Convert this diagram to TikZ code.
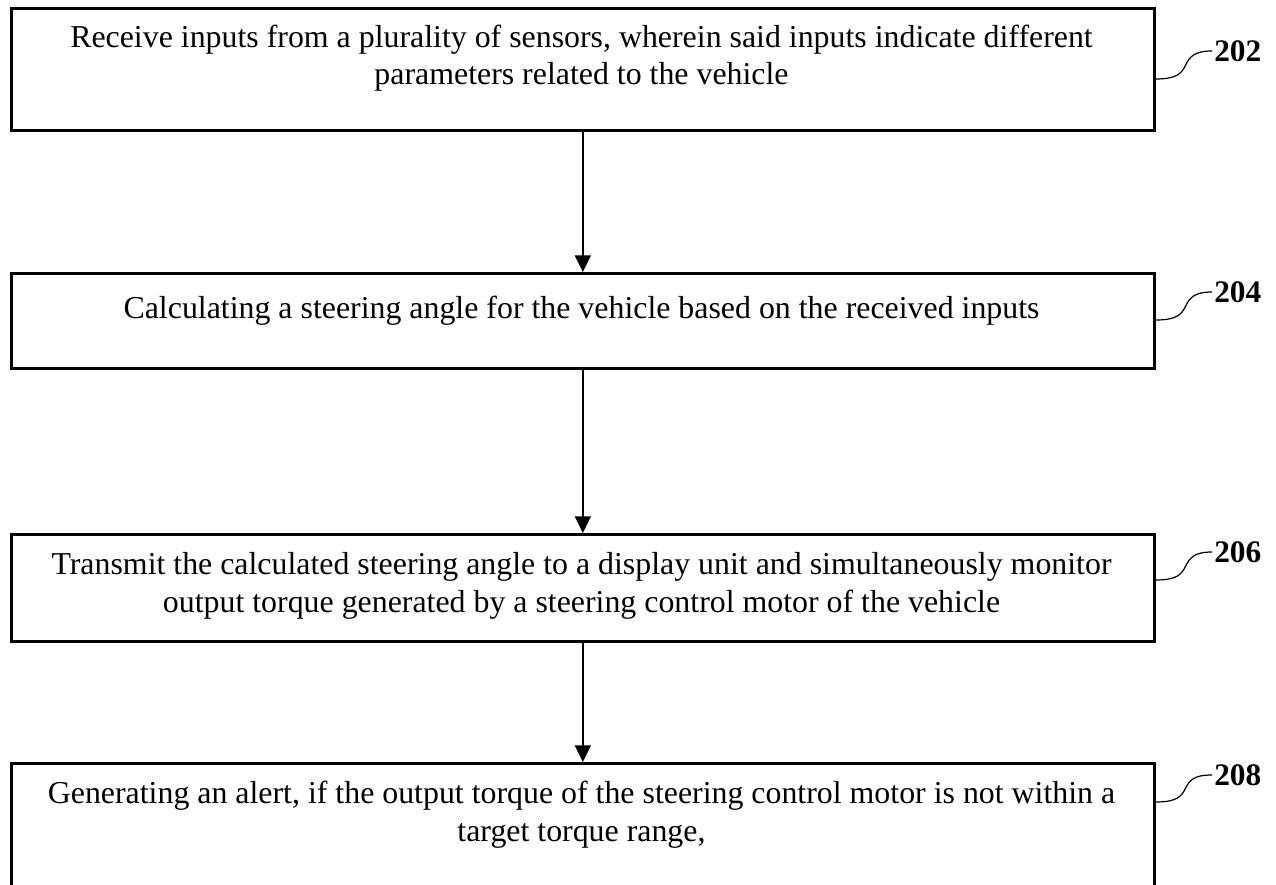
\documentclass[tikz,border=0pt]{standalone}
\usepackage{fontspec}
\setmainfont{Liberation Serif}
\usetikzlibrary{arrows.meta,calc}

\tikzset{
  stepbox/.style={draw, line width=2pt, rectangle, inner sep=0pt,
    anchor=north west, minimum width=857.25pt},
  steptext/.style={anchor=base, align=center, inner sep=0pt,
    font=\fontsize{23.9}{28.3}\selectfont},
  flow/.style={line width=1.1pt, -{Triangle[width=12pt,length=12.5pt]}},
  refnum/.style={anchor=west, inner sep=1.5pt,
    font=\fontsize{23.5}{26}\selectfont\bfseries},
  lead/.style={line width=0.9pt},
}

\begin{document}
\begin{tikzpicture}[x=0.75pt, y=-0.75pt]
  \useasboundingbox (0,0) rectangle (1276,884);
  \clip (0,0) rectangle (1276,884);

  % step boxes
  \node[stepbox, minimum height=91.5pt]  (b1) at (10,7)   {};
  \node[stepbox, minimum height=71.25pt] (b2) at (10,272) {};
  \node[stepbox, minimum height=80.25pt] (b3) at (10,533) {};
  \node[stepbox, minimum height=105pt]   (b4) at (10,762) {};

  % step texts (anchored at the baseline of the last line)
  \node[steptext] (t1) at (581.5,85)  {Receive inputs from a plurality of sensors, wherein said inputs indicate different\\parameters related to the vehicle};
  \node[steptext] (t2) at (581.5,318) {Calculating a steering angle for the vehicle based on the received inputs};
  \node[steptext] (t3) at (581.5,612) {Transmit the calculated steering angle to a display unit and simultaneously monitor\\output torque generated by a steering control motor of the vehicle};
  \node[steptext] (t4) at (581.5,841) {Generating an alert, if the output torque of the steering control motor is not within a\\target torque range,};

  % flow arrows
  \draw[flow] (b1.south) -- (b2.north);
  \draw[flow] (b2.south) -- (b3.north);
  \draw[flow] (b3.south) -- (b4.north);

  % reference numerals with leader curves
  \node[refnum] (l1) at (1212,51)  {202};
  \node[refnum] (l2) at (1212,292) {204};
  \node[refnum] (l3) at (1212,552) {206};
  \node[refnum] (l4) at (1212,775) {208};

  \coordinate (c1) at ($(b1.north east)+(0,72)$);
  \coordinate (c2) at ($(b2.north east)+(0,48)$);
  \coordinate (c3) at ($(b3.north east)+(0,47)$);
  \coordinate (c4) at ($(b4.north east)+(0,40)$);

  \foreach \i in {1,2,3,4} {
    \draw[lead] (c\i) .. controls +(22,0) and +(-4,8) .. ($(c\i)+(30,-14)$)
                      .. controls +(4,-8) and +(-18,0) .. (l\i.west);
  }
\end{tikzpicture}
\end{document}
